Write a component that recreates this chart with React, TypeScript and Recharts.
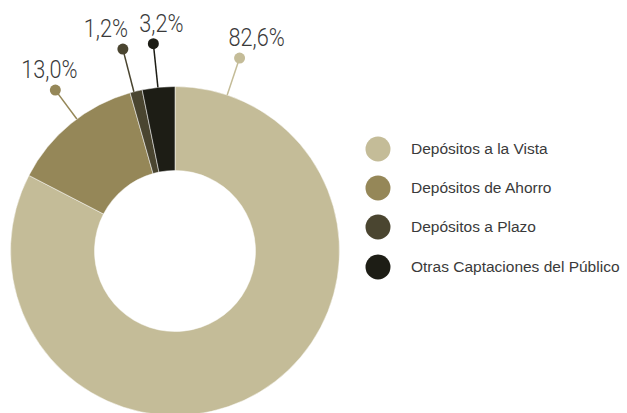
import { PieChart, Pie, Cell, Legend } from "recharts";

const categories = [
  "Depósitos a la Vista",
  "Depósitos de Ahorro",
  "Depósitos a Plazo",
  "Otras Captaciones del Público",
];
const shares = [82.6, 13.0, 1.2, 3.2];
const colors = ["#c4bc98", "#958758", "#4a4530", "#1d1d15"];

const data = categories.map((name, i) => ({ name, value: shares[i] }));

const FONT = '"Liberation Sans", Arial, sans-serif';
const LABEL_FONT = 'Roboto, "Liberation Sans", Arial, sans-serif';
const TEXT = "#3a3a3a";
const RAD = Math.PI / 180;

// label leader tweaks, per slice
const leaderLen = [39, 36, 44, 44];
const angleNudge = [0, -2.6, 0.8, 0.2];
const textDx = [17, -6, -17, 8];

function renderLabel(props: any) {
  const { cx, cy, midAngle, startAngle, outerRadius, index, value } = props;
  // the big slice gets its callout near its start instead of the middle
  const angle = (value > 50 ? startAngle - 18.5 : midAngle) + angleNudge[index];
  const cos = Math.cos(angle * RAD);
  const sin = Math.sin(angle * RAD);
  const r1 = outerRadius;
  const r2 = outerRadius + leaderLen[index];
  const x1 = cx + r1 * cos;
  const y1 = cy - r1 * sin;
  const x2 = cx + r2 * cos;
  const y2 = cy - r2 * sin;
  return (
    <g>
      <line x1={x1} y1={y1} x2={x2} y2={y2} stroke={colors[index]} strokeWidth={1.5} />
      <circle cx={x2} cy={y2} r={5.5} fill={colors[index]} />
      {/* condensed look: squeeze horizontally */}
      <text
        transform={`translate(${x2 + textDx[index]},${y2 - 12}) scale(0.85,1)`}
        textAnchor="middle"
        fontFamily={LABEL_FONT}
        fontWeight={300}
        fontSize={25.5}
        fill={TEXT}
      >
        {value.toFixed(1).replace(".", ",") + "%"}
      </text>
    </g>
  );
}

function LegendList() {
  return (
    <div style={{ fontFamily: FONT, fontSize: 15.5, color: TEXT, whiteSpace: "nowrap" }}>
      {categories.map((c, i) => (
        <div key={c} style={{ display: "flex", alignItems: "center", height: 39.3 }}>
          <svg width={26} height={26} style={{ marginRight: 20 }}>
            <circle cx={13} cy={13} r={12.5} fill={colors[i]} />
          </svg>
          <span>{c}</span>
        </div>
      ))}
    </div>
  );
}

export default function App() {
  return (
    <div style={{ position: "absolute", left: 0, top: 0, background: "#fff" }}>
      <PieChart width={627} height={413} margin={{ top: 0, right: 0, bottom: 0, left: 0 }}>
        <Pie
          data={data}
          dataKey="value"
          nameKey="name"
          cx={175}
          cy={251}
          innerRadius={80.5}
          outerRadius={164.5}
          startAngle={90}
          endAngle={-270}
          stroke="#ffffff"
          strokeWidth={0.5}
          label={renderLabel}
          labelLine={false}
          isAnimationActive={false}
        >
          {data.map((d, i) => (
            <Cell key={d.name} fill={colors[i]} />
          ))}
        </Pie>
        <Legend
          content={() => <LegendList />}
          wrapperStyle={{ left: 365, top: 129, width: 262 }}
        />
      </PieChart>
    </div>
  );
}
